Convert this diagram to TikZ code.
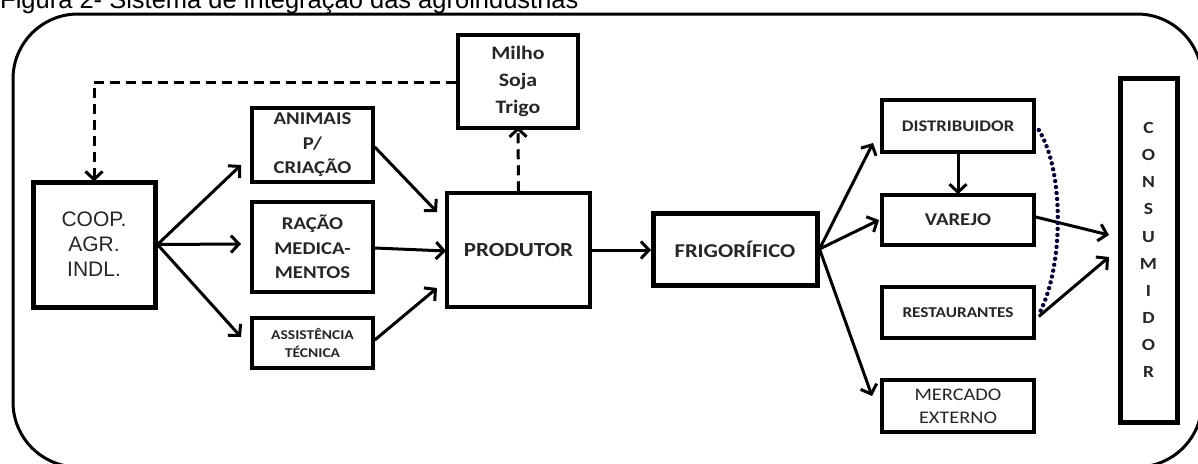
\documentclass[tikz,border=0pt]{standalone}
\usepackage{fontspec}
\setmainfont{Liberation Sans}
\newfontfamily\calbold{Carlito}[FakeStretch=1.15,BoldFont={* Bold}]
\newfontfamily\arialf{Liberation Sans}
\usetikzlibrary{arrows.meta}

\tikzset{
  box/.style={draw, line width=3.5pt, inner sep=0pt, align=center, text=black!85,
              font=\calbold\bfseries\fontsize{18}{24.5}\selectfont},
  heavybox/.style={box, line width=5pt},
  arr/.style={line width=3pt, -{Straight Barb[length=8pt,width=17pt]}},
  dasharr/.style={line width=3pt, dash pattern=on 10pt off 6pt, -{Straight Barb[length=8pt,width=17pt]}},
  dotcurve/.style={line width=4.4pt, dash pattern=on 0pt off 6pt, line cap=round, draw=black!80!blue}
}

\begin{document}
\begin{tikzpicture}[x=1pt, y=-1pt]
\useasboundingbox (0,0) rectangle (1198,463);

% caption and outer frame
\node[anchor=base west, inner sep=0pt, font=\arialf\fontsize{25.5}{30}\selectfont] (title) at (0,8.5)
  {Figura 2- Sistema de integração das agroindústrias};
\draw[line width=3pt, rounded corners=65pt] (13,14) rectangle (1202,467);

% boxes
\node[heavybox, minimum width=122pt, minimum height=125pt,
      font=\arialf\fontsize{21}{25}\selectfont] (coop) at (94,244.5) {COOP.\\AGR.\\INDL.};
\node[box, minimum width=121pt, minimum height=74pt] (animais) at (312.5,145) {ANIMAIS\\P/\\CRIAÇÃO};
\node[box, minimum width=121pt, minimum height=90pt] (racao) at (312.5,247) {RAÇÃO\\MEDICA-\\MENTOS};
\node[box, minimum width=121pt, minimum height=50pt,
      font=\calbold\bfseries\fontsize{13.5}{18}\selectfont] (assist) at (312.5,343) {ASSISTÊNCIA\\TÉCNICA};
\node[box, minimum width=143pt, minimum height=114pt,
      font=\calbold\bfseries\fontsize{20}{24}\selectfont] (produtor) at (518.5,250) {PRODUTOR};
\node[box, minimum width=120pt, minimum height=93pt,
      font=\calbold\bfseries\fontsize{19}{27}\selectfont] (milho) at (518,81.5) {Milho\\Soja\\Trigo};
\node[heavybox, minimum width=164pt, minimum height=72pt,
      font=\calbold\bfseries\fontsize{19.6}{24}\selectfont] (frigo) at (735,249) {FRIGORÍFICO};
\node[box, minimum width=152pt, minimum height=52pt,
      font=\calbold\bfseries\fontsize{16.2}{20}\selectfont] (distrib) at (958,126) {DISTRIBUIDOR};
\node[box, minimum width=152pt, minimum height=50pt] (varejo) at (958,220) {VAREJO};
\node[box, minimum width=152pt, minimum height=51pt,
      font=\calbold\bfseries\fontsize{15}{20}\selectfont] (restaur) at (958,312.5) {RESTAURANTES};
\node[box, minimum width=152pt, minimum height=52pt,
      font=\calbold\fontsize{17.7}{23}\selectfont] (mercado) at (958,406) {MERCADO\\EXTERNO};
\node[heavybox, minimum width=57pt, minimum height=344pt,
      font=\calbold\bfseries\fontsize{17}{27.1}\selectfont] (consumidor) at (1148.5,250)
  {C\\O\\N\\S\\U\\M\\I\\D\\O\\R};

% arrow end points
\coordinate (eAnim) at (241,165);
\coordinate (eRac) at (241,244);
\coordinate (eAss) at (241,337);
\coordinate (pAnim) at (437,212);
\coordinate (pRac) at (446,251);
\coordinate (pAss) at (437,288);
\coordinate (eFrig) at (651,250);
\coordinate (eDist) at (873,143);
\coordinate (eVar) at (879,220);
\coordinate (eMerc) at (872,396);
\coordinate (cVar) at (1109,235);
\coordinate (cRest) at (1109,257);
\coordinate (dashCorner) at (94,82);

% supply flows
\draw[arr] (coop.east) -- (eAnim);
\draw[arr] (coop.east) -- (eRac);
\draw[arr] (coop.east) -- (eAss);
\draw[arr] (animais.east |- 0,147) -- (pAnim);
\draw[arr] (racao.east |- 0,248) -- (pRac);
\draw[arr] (assist.east |- 0,340) -- (pAss);
\draw[arr] (produtor.east) -- (eFrig);
\draw[arr] (frigo.east) -- (eDist);
\draw[arr] (frigo.east) -- (eVar);
\draw[arr] (frigo.east) -- (eMerc);
\draw[arr] (distrib.south) -- ([yshift=-1pt]varejo.north);
\draw[arr] (varejo.east |- 0,217) -- (cVar);
\draw[arr] ([xshift=3pt,yshift=-4pt]restaur.east) -- (cRest);

% grain feedback loop
\draw[dasharr] (produtor.north) -- ([yshift=3pt]milho.south);
\draw[dasharr] (milho.west |- dashCorner) -- (dashCorner) -- ([yshift=-2pt]coop.north);

% distributor to restaurants link
\draw[dotcurve] ([xshift=3pt,yshift=-4pt]distrib.east) .. controls (1064,170) and (1064,265) .. ([xshift=4pt]restaur.east);
\end{tikzpicture}
\end{document}
